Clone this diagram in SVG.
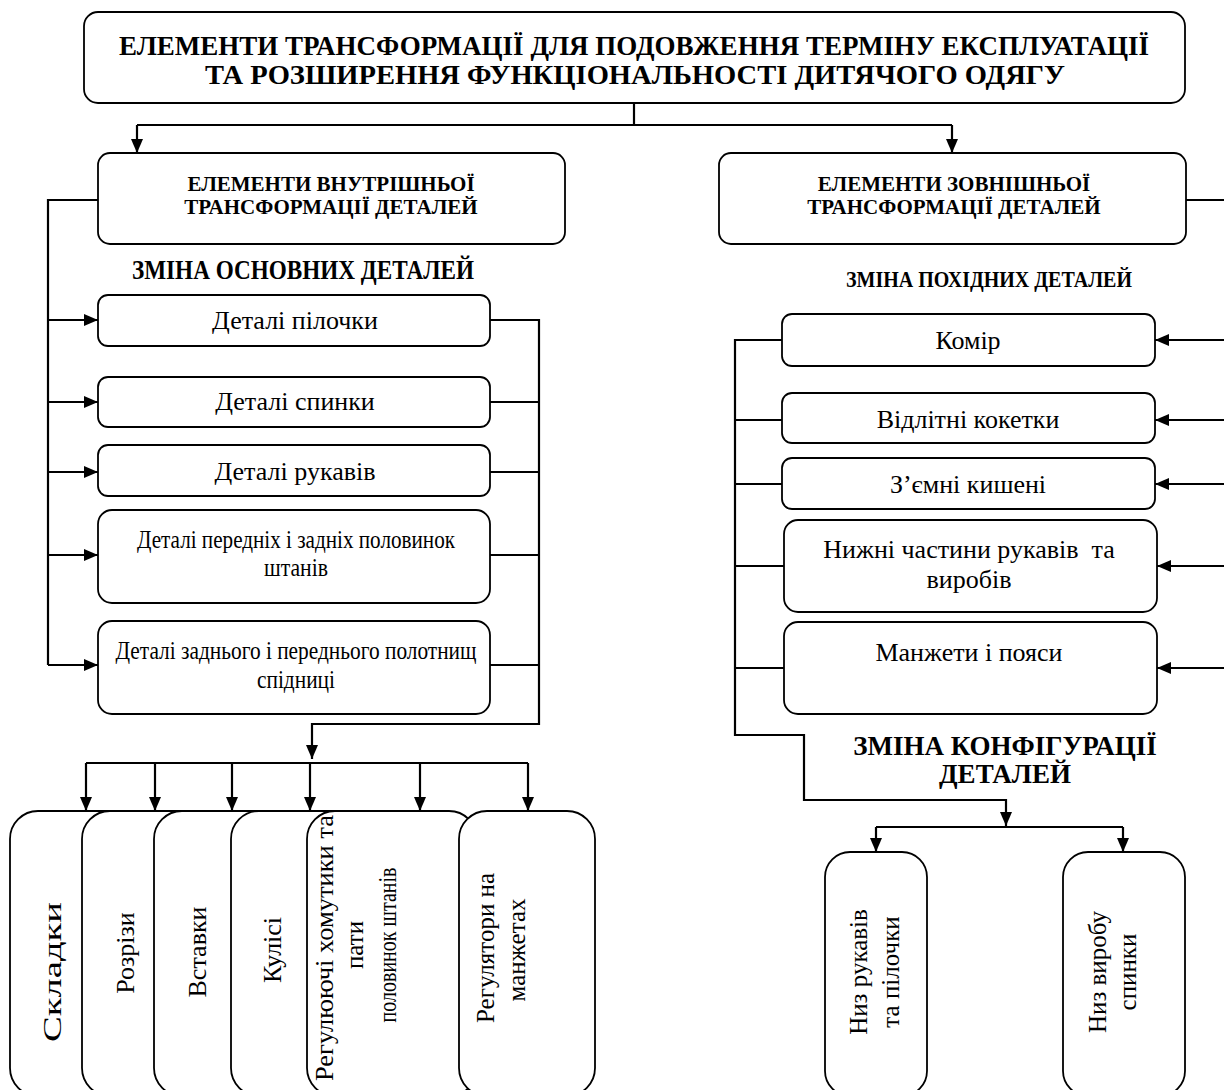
<svg xmlns="http://www.w3.org/2000/svg" width="1224" height="1090" viewBox="0 0 1224 1090">
<style>
.box{fill:#fff;stroke:#000;stroke-width:1.8}
.ln{fill:none;stroke:#000;stroke-width:2.2}
.t{font-family:"Liberation Serif","Times New Roman",serif;fill:#000}
.b{font-weight:bold}
.c{text-anchor:middle}
</style>
<defs>
<marker id="ah" viewBox="0 0 14 12" refX="14" refY="6" markerWidth="14" markerHeight="12" markerUnits="userSpaceOnUse" orient="auto"><path d="M0,0 L14,6 L0,12 z" fill="#000"/></marker>
</defs>
<rect width="1224" height="1090" fill="#fff"/>

<g id="connectors">
<path class="ln" d="M634,103 V125"/>
<path class="ln" d="M137,125 H952"/>
<path class="ln" d="M137,125 V153" marker-end="url(#ah)"/>
<path class="ln" d="M952,125 V153" marker-end="url(#ah)"/>
<path class="ln" d="M98,200 H48 V665"/>
<path class="ln" d="M48,320 H98" marker-end="url(#ah)"/>
<path class="ln" d="M48,402 H98" marker-end="url(#ah)"/>
<path class="ln" d="M48,472 H98" marker-end="url(#ah)"/>
<path class="ln" d="M48,555 H98" marker-end="url(#ah)"/>
<path class="ln" d="M48,665 H98" marker-end="url(#ah)"/>
<path class="ln" d="M490,320 H539 V724 H312 V759" marker-end="url(#ah)"/>
<path class="ln" d="M490,402 H539"/>
<path class="ln" d="M490,472 H539"/>
<path class="ln" d="M490,555 H539"/>
<path class="ln" d="M490,665 H539"/>
<path class="ln" d="M86,763 H528"/>
<path class="ln" d="M86,763 V811" marker-end="url(#ah)"/>
<path class="ln" d="M155,763 V811" marker-end="url(#ah)"/>
<path class="ln" d="M232,763 V811" marker-end="url(#ah)"/>
<path class="ln" d="M310,763 V811" marker-end="url(#ah)"/>
<path class="ln" d="M420,763 V811" marker-end="url(#ah)"/>
<path class="ln" d="M528,763 V811" marker-end="url(#ah)"/>
<path class="ln" d="M1186,200 H1230 V668"/>
<path class="ln" d="M1230,340 H1155" marker-end="url(#ah)"/>
<path class="ln" d="M1230,420 H1155" marker-end="url(#ah)"/>
<path class="ln" d="M1230,484 H1155" marker-end="url(#ah)"/>
<path class="ln" d="M1230,566 H1157" marker-end="url(#ah)"/>
<path class="ln" d="M1230,668 H1157" marker-end="url(#ah)"/>
<path class="ln" d="M782,340 H735 V735 H804 V800 H1006 V826" marker-end="url(#ah)"/>
<path class="ln" d="M782,420 H735"/>
<path class="ln" d="M782,484 H735"/>
<path class="ln" d="M784,566 H735"/>
<path class="ln" d="M784,668 H735"/>
<path class="ln" d="M876,827 H1123"/>
<path class="ln" d="M876,827 V852" marker-end="url(#ah)"/>
<path class="ln" d="M1123,827 V852" marker-end="url(#ah)"/>
</g>

<g id="title">
<rect class="box" x="84" y="12" width="1101" height="91" rx="14"/>
<text class="t b c" x="634" y="55" font-size="27" textLength="1030" lengthAdjust="spacingAndGlyphs">ЕЛЕМЕНТИ ТРАНСФОРМАЦІЇ ДЛЯ ПОДОВЖЕННЯ ТЕРМІНУ ЕКСПЛУАТАЦІЇ</text>
<text class="t b c" x="635" y="84" font-size="27" textLength="860" lengthAdjust="spacingAndGlyphs">ТА РОЗШИРЕННЯ ФУНКЦІОНАЛЬНОСТІ ДИТЯЧОГО ОДЯГУ</text>
</g>

<g id="inner-header">
<rect class="box" x="98" y="153" width="467" height="91" rx="12"/>
<text class="t b c" x="331" y="191" font-size="21">ЕЛЕМЕНТИ ВНУТРІШНЬОЇ</text>
<text class="t b c" x="331" y="214" font-size="21">ТРАНСФОРМАЦІЇ ДЕТАЛЕЙ</text>
</g>
<g id="outer-header">
<rect class="box" x="719" y="153" width="467" height="91" rx="12"/>
<text class="t b c" x="954" y="191" font-size="21">ЕЛЕМЕНТИ ЗОВНІШНЬОЇ</text>
<text class="t b c" x="954" y="214" font-size="21">ТРАНСФОРМАЦІЇ ДЕТАЛЕЙ</text>
</g>

<g id="label-osnovni">
<text class="t b c" x="303" y="279" font-size="27" textLength="342" lengthAdjust="spacingAndGlyphs">ЗМІНА ОСНОВНИХ ДЕТАЛЕЙ</text>
</g>
<g id="label-pokhidni">
<text class="t b c" x="989" y="287" font-size="24" textLength="286" lengthAdjust="spacingAndGlyphs">ЗМІНА ПОХІДНИХ ДЕТАЛЕЙ</text>
</g>
<g id="label-konfig">
<text class="t b c" x="1005" y="755" font-size="27">ЗМІНА КОНФІГУРАЦІЇ</text>
<text class="t b c" x="1005" y="783" font-size="27">ДЕТАЛЕЙ</text>
</g>

<g id="l1"><rect class="box" x="98" y="295" width="392" height="51" rx="10"/>
<text class="t c" x="295" y="329" font-size="26">Деталі пілочки</text></g>
<g id="l2"><rect class="box" x="98" y="377" width="392" height="50" rx="10"/>
<text class="t c" x="295" y="410" font-size="26">Деталі спинки</text></g>
<g id="l3"><rect class="box" x="98" y="445" width="392" height="51" rx="10"/>
<text class="t c" x="295" y="480" font-size="26">Деталі рукавів</text></g>
<g id="l4"><rect class="box" x="98" y="510" width="392" height="93" rx="14"/>
<text class="t c" x="296" y="548" font-size="26" textLength="318" lengthAdjust="spacingAndGlyphs">Деталі передніх і задніх половинок</text>
<text class="t c" x="296" y="576" font-size="26" textLength="64" lengthAdjust="spacingAndGlyphs">штанів</text></g>
<g id="l5"><rect class="box" x="98" y="621" width="392" height="93" rx="14"/>
<text class="t c" x="296" y="659" font-size="26" textLength="361" lengthAdjust="spacingAndGlyphs">Деталі заднього і переднього полотнищ</text>
<text class="t c" x="296" y="688" font-size="26" textLength="78" lengthAdjust="spacingAndGlyphs">спідниці</text></g>

<g id="r1"><rect class="box" x="782" y="314" width="373" height="52" rx="10"/>
<text class="t c" x="968" y="349" font-size="26">Комір</text></g>
<g id="r2"><rect class="box" x="782" y="393" width="373" height="50" rx="10"/>
<text class="t c" x="968" y="428" font-size="26">Відлітні кокетки</text></g>
<g id="r3"><rect class="box" x="782" y="458" width="373" height="51" rx="10"/>
<text class="t c" x="968" y="493" font-size="26">З’ємні кишені</text></g>
<g id="r4"><rect class="box" x="784" y="520" width="373" height="92" rx="14"/>
<text class="t c" x="969" y="558" font-size="26" xml:space="preserve">Нижні частини рукавів  та</text>
<text class="t c" x="969" y="588" font-size="26">виробів</text></g>
<g id="r5"><rect class="box" x="784" y="622" width="373" height="92" rx="14"/>
<text class="t c" x="969" y="661" font-size="26">Манжети і пояси</text></g>

<g id="b1"><rect class="box" x="10" y="811" width="160" height="285" rx="28"/>
<text class="t c" transform="translate(52,972) rotate(-90)" dy="9" font-size="25" textLength="140" lengthAdjust="spacingAndGlyphs">Складки</text></g>
<g id="b2"><rect class="box" x="82" y="811" width="160" height="285" rx="28"/>
<text class="t c" transform="translate(125,953) rotate(-90)" dy="9" font-size="26">Розрізи</text></g>
<g id="b3"><rect class="box" x="154" y="811" width="160" height="285" rx="28"/>
<text class="t c" transform="translate(197,952) rotate(-90)" dy="9" font-size="26">Вставки</text></g>
<g id="b4"><rect class="box" x="231" y="811" width="160" height="285" rx="28"/>
<text class="t c" transform="translate(272,950) rotate(-90)" dy="9" font-size="26">Кулісі</text></g>
<g id="b5"><rect class="box" x="307" y="811" width="170" height="285" rx="28"/>
<text class="t c" transform="translate(324,948) rotate(-90)" dy="9" font-size="25" textLength="266" lengthAdjust="spacingAndGlyphs">Регулюючі хомутики та</text>
<text class="t c" transform="translate(354,945) rotate(-90)" dy="9" font-size="25">пати</text>
<text class="t c" transform="translate(387,945) rotate(-90)" dy="9" font-size="25" textLength="155" lengthAdjust="spacingAndGlyphs">половинок штанів</text></g>
<g id="b6"><rect class="box" x="459" y="811" width="136" height="285" rx="28"/>
<text class="t c" transform="translate(485,948) rotate(-90)" dy="9" font-size="25">Регулятори на</text>
<text class="t c" transform="translate(516,950) rotate(-90)" dy="9" font-size="25">манжетах</text></g>

<g id="k1"><rect class="box" x="825" y="852" width="102" height="244" rx="25"/>
<text class="t c" transform="translate(858,972) rotate(-90)" dy="9" font-size="25">Низ рукавів</text>
<text class="t c" transform="translate(890,972) rotate(-90)" dy="9" font-size="25">та пілочки</text></g>
<g id="k2"><rect class="box" x="1063" y="852" width="122" height="244" rx="25"/>
<text class="t c" transform="translate(1097,972) rotate(-90)" dy="9" font-size="25">Низ виробу</text>
<text class="t c" transform="translate(1127,972) rotate(-90)" dy="9" font-size="25">спинки</text></g>
</svg>
